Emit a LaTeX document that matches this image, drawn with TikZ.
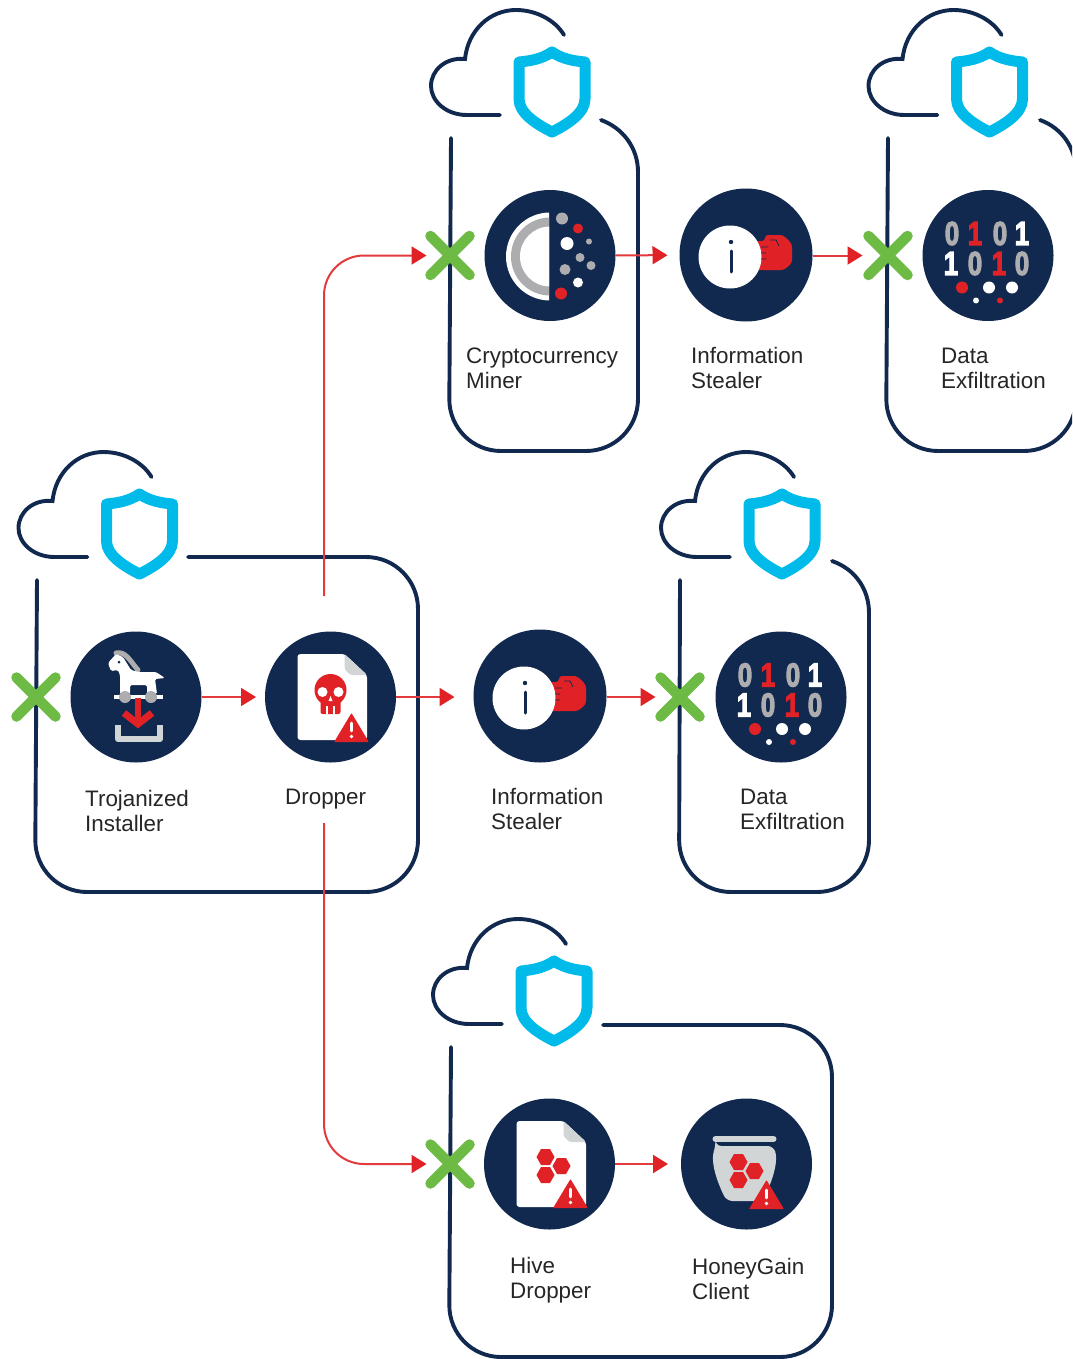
\documentclass[tikz,border=0pt]{standalone}
\usepackage{fontspec}
\setmainfont{Liberation Sans}
\newfontfamily\bitsfont[BoldFeatures={FakeBold=4}]{Liberation Sans}
\usetikzlibrary{arrows.meta,shapes.misc}
\definecolor{navy}{HTML}{12294F}
\definecolor{alarm}{HTML}{E02226}
\definecolor{flow}{HTML}{E33A3E}
\definecolor{sky}{HTML}{00BBEA}
\definecolor{leaf}{HTML}{6DBA45}
\definecolor{silver}{HTML}{ADADAF}
\definecolor{pale}{HTML}{D2D5D6}
\newcommand{\hexa}[2]{\fill[alarm,shift={(#1,#2)}] (9,0)--(4.5,8)--(-4.5,8)--(-9,0)--(-4.5,-8)--(4.5,-8)--cycle;}
\newcommand{\warnsign}[2]{%
  \fill[alarm,draw=alarm,line width=1pt,line join=round,shift={(#1,#2)}] (0,0)--(-16.5,27.5)--(16.5,27.5)--cycle;
  \draw[white,line width=2.6pt,line cap=round,shift={(#1,#2)}] (0,9)--(0,17);
  \fill[white,shift={(#1,#2)}] (0,22.5) circle[radius=1.8];}
\newcommand{\dg}[1]{\scalebox{.78}[1]{#1}}
\newcommand{\paper}{%
  \fill[white,rounded corners=3pt] (-33,-43)--(14,-43)--(36.5,-22)--(36.5,43)--(-33,43)--cycle;
  \fill[pale,rounded corners=1.5pt] (14,-43)--(36.5,-22)--(20,-22)--(14,-28)--cycle;}
\tikzset{
  hub/.style={circle,fill=navy,draw=none,minimum size=131pt,inner sep=0pt,outer sep=0pt},
  blockmark/.style={cross out,draw=leaf,line width=10.5pt,line cap=round,minimum size=39pt,inner sep=0pt,outer sep=0pt},
  flowline/.style={draw=flow,line width=2pt,-{Triangle[length=15pt,width=18pt,color=alarm]}},
  frame/.style={draw=navy,line width=3.9pt,line cap=round},
  caption/.style={anchor=west,align=left,inner sep=0pt,text=black!85,font=\fontsize{22.4}{25}\selectfont},
  digit/.style={inner sep=0pt,font=\bitsfont\bfseries\fontsize{33}{33}\selectfont},
  pics/cloudguard/.style={code={
    \draw[frame] (-52,22)--(-85,22) .. controls (-106,22) and (-121,8) .. (-121,-7)
      .. controls (-121,-23) and (-106,-36) .. (-87,-34)
      .. controls (-84,-63) and (-62,-83) .. (-36,-83)
      .. controls (-16,-83) and (3,-73) .. (12,-58);
    \draw[sky,line width=11pt,line join=round] (0,-41)
      .. controls (-10,-34) and (-22,-32) .. (-33,-31) -- (-33,6)
      .. controls (-33,20) and (-16,31) .. (0,39)
      .. controls (16,31) and (33,20) .. (33,6) -- (33,-31)
      .. controls (22,-32) and (10,-34) .. (0,-41) -- cycle;
  }},
  pics/horseicon/.style={code={
    \draw[silver,line width=5pt,line cap=round] (-20,-44) .. controls (-10,-46) and (-6,-36) .. (2,-27);
    \fill[white,rounded corners=1.5pt] (-28,-34)--(-20,-43)--(-13,-40)--(-5,-27)--(3,-25)--(20,-25)--(29,-19)--(19,-18)--(21,-3)--(11,-3)--(11,-12)--(-6,-12)--(-6,-3)--(-16,-3)--(-16,-22)--(-18,-27)--(-25,-26)--cycle;
    \fill[navy] (-17,-35) circle[radius=1.5];
    \draw[white,line width=4pt] (-22,0)--(27,0);
    \fill[silver] (-11,0) circle[radius=6] (15,0) circle[radius=6];
    \draw[alarm,line width=6pt] (2,1)--(2,24);
    \draw[alarm,line width=7pt] (-12,16)--(2,27)--(16,16);
    \draw[pale,line width=6pt,line join=round] (-18,28)--(-18,42)--(24,42)--(24,28);
  }},
  pics/skullicon/.style={code={
    \paper
    \fill[alarm] (0,-7) circle[radius=16];
    \fill[alarm,rounded corners=2pt] (-10,2) rectangle (10,17);
    \fill[white] (-8,-5) circle[radius=5] (8,-5) circle[radius=5];
    \fill[white] (0,-1)--(-2,4)--(2,4)--cycle;
    \draw[white,line width=1.2pt] (-3.5,9)--(-3.5,17) (3.5,9)--(3.5,17);
    \warnsign{21}{17}
  }},
  pics/hiveicon/.style={code={
    \paper
    \hexa{-4}{-7}\hexa{12}{2}\hexa{-4}{11}
    \warnsign{21}{16}
  }},
  pics/jaricon/.style={code={
    \draw[pale,line width=6pt,line cap=round] (-31,-25)--(27,-25);
    \fill[pale,rounded corners=6pt] (-31,-18) -- (27,-18) .. controls (31,-5) and (29,10) .. (16,37) -- (-20,37) .. controls (-33,10) and (-35,-5) .. (-31,-18) -- cycle;
    \hexa{-8}{-2}\hexa{8}{7}\hexa{-8}{16}
    \warnsign{20}{17}
  }},
  pics/infoicon/.style={code={
    \fill[alarm,rounded corners=3pt] (9,-14)--(19,-14)--(19,-20)--(37,-20)--(46,-11)--(46,8)--(38,15)--(9,15)--cycle;
    \fill[white] (-16,2) circle[radius=31.5];
    \draw[navy,line width=.8pt] (24,-15)--(30,-15)--(33,-9) (15,-8)--(22,-8) (15,-2)--(20,-2) (15,4)--(20,4);
    \fill[navy] (-15,-13) circle[radius=2.2];
    \draw[navy,line width=3pt,line cap=round] (-15,-4)--(-15,17);
  }},
  pics/minericon/.style={code={
    \begin{scope}
      \clip (-50,-50) rectangle (-1,50);
      \fill[white] (0,1) circle[radius=44];
      \fill[silver] (0,1) circle[radius=39];
      \fill[white] (0,1) circle[radius=30];
    \end{scope}
    \fill[silver] (12,-37) circle[radius=6] (39,-14) circle[radius=3] (30,2) circle[radius=4.5] (41,10) circle[radius=4.5] (15,14) circle[radius=5.5];
    \fill[alarm] (28,-27) circle[radius=5] (11,38) circle[radius=6];
    \fill[white] (17,-12) circle[radius=6.5] (28,27) circle[radius=5];
  }},
  pics/bitsicon/.style={code={
    \node[digit,text=silver] (ra) at (-36,-22) {\dg{0}};
    \node[digit,text=alarm]  (rb) at (-13,-22) {\dg{1}};
    \node[digit,text=silver] (rc) at (12,-22) {\dg{0}};
    \node[digit,text=white]  (rd) at (34,-22) {\dg{1}};
    \node[digit,text=white]  (se) at (-37,8) {\dg{1}};
    \node[digit,text=silver] (sf) at (-13,8) {\dg{0}};
    \node[digit,text=alarm]  (sg) at (11,8) {\dg{1}};
    \node[digit,text=silver] (sh) at (34,8) {\dg{0}};
    \fill[alarm] (-26,32) circle[radius=6] (12,45) circle[radius=3];
    \fill[white] (1,32) circle[radius=6] (24,32) circle[radius=6] (-12,45) circle[radius=3];
  }},
}
\begin{document}
\begin{tikzpicture}[x=1pt,y=-1pt]
\fill[white,use as bounding box] (0,0) rectangle (1072,1359);
\clip (0,0) rectangle (1072,1359);

% frames
\draw[frame,rounded corners=52pt] (37,580) -- (35,892) -- (418,892) -- (418,557) -- (188,557);
\draw[frame] (601,120) .. controls (623,128) and (638,148) .. (638,172)
  [rounded corners=52pt] -- (638,451) -- (449,451) [sharp corners] -- (451,138);
\draw[frame] (1040,120) .. controls (1062,128) and (1076,148) .. (1076,172)
  [rounded corners=52pt] -- (1076,451) -- (886,451) [sharp corners] -- (888,138);
\draw[frame] (832,561) .. controls (855,569) and (869,589) .. (869,613)
  [rounded corners=52pt] -- (869,892) -- (679,892) [sharp corners] -- (680,580);
\draw[frame,rounded corners=52pt] (451,1047) -- (449,1357) -- (832,1357) -- (832,1025) -- (603,1025);

% cloud and shield
\pic (guardA) at (139.5,535) {cloudguard};
\pic (guardB) at (552,93) {cloudguard};
\pic (guardC) at (989.5,93) {cloudguard};
\pic (guardD) at (782,535) {cloudguard};
\pic (guardE) at (554,1002) {cloudguard};

% stages
\node[hub] (trojan) at (136,697) {};
\node[hub] (dropper) at (330.5,697) {};
\node[hub,minimum size=133pt] (infoMid) at (540,696) {};
\node[hub] (dataMid) at (781,697) {};
\node[hub] (miner) at (550,255.5) {};
\node[hub,minimum size=133pt] (infoTop) at (746,255) {};
\node[hub] (dataTop) at (988,255.5) {};
\node[hub] (hive) at (549.5,1164) {};
\node[hub] (honey) at (746.5,1164) {};

\pic (icoTrojan) at (trojan.center) {horseicon};
\pic (icoDropper) at (dropper.center) {skullicon};
\pic (icoInfoMid) at (infoMid.center) {infoicon};
\pic (icoDataMid) at (dataMid.center) {bitsicon};
\pic (icoMiner) at (miner.center) {minericon};
\pic (icoInfoTop) at (infoTop.center) {infoicon};
\pic (icoDataTop) at (dataTop.center) {bitsicon};
\pic (icoHive) at (hive.center) {hiveicon};
\pic (icoHoney) at (honey.center) {jaricon};

% blocked marks
\node[blockmark] (xTrojan) at (36,697) {};
\node[blockmark] (xMiner) at (450,255.5) {};
\node[blockmark] (xDataTop) at (888,255.5) {};
\node[blockmark] (xDataMid) at (680,697) {};
\node[blockmark] (xHive) at (450,1164) {};

% connectors
\coordinate (dropUp) at (324,596);
\coordinate (dropDown) at (324,823);
\draw[flowline,shorten >=9pt] (trojan) -- (dropper);
\draw[flowline,shorten >=19pt] (dropper.east) -- (dropper.east -| infoMid.west);
\draw[flowline,shorten >=5pt] (infoMid.east |- xDataMid.west) -- (xDataMid.west);
\draw[flowline,shorten >=12pt] (miner) -- (infoTop);
\draw[flowline,shorten >=6pt] (infoTop.east |- xDataTop.west) -- (xDataTop.west);
\draw[flowline,shorten >=13pt] (hive) -- (honey);
\draw[flowline,rounded corners=40pt,shorten >=4pt] (dropUp) |- (xMiner.west);
\draw[flowline,rounded corners=40pt,shorten >=4pt] (dropDown) |- (xHive.west);

% labels
\node[caption] (capTrojan) at (85,810.5) {Trojanized\\Installer};
\node[caption] (capDropper) at (285,799.5) {Dropper};
\node[caption] (capInfoMid) at (491,808.5) {Information\\Stealer};
\node[caption] (capDataMid) at (740,809.5) {Data\\Exfiltration};
\node[caption] (capMiner) at (466,368.5) {Cryptocurrency\\Miner};
\node[caption] (capInfoTop) at (691,368) {Information\\Stealer};
\node[caption] (capDataTop) at (941,368.5) {Data\\Exfiltration};
\node[caption] (capHive) at (510,1280.5) {Hive\\Dropper};
\node[caption] (capHoney) at (692,1278.5) {HoneyGain\\Client};
\end{tikzpicture}
\end{document}
